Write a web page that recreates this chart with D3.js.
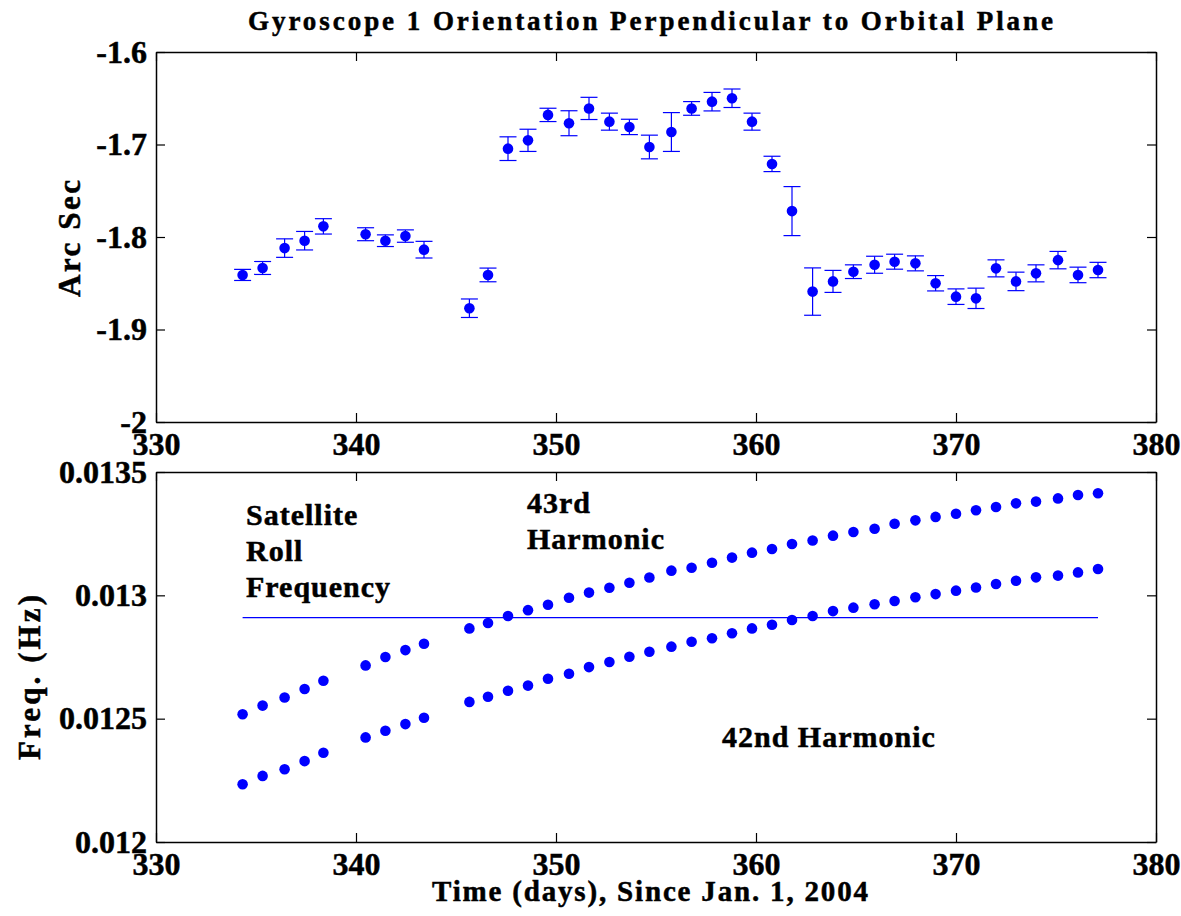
<!DOCTYPE html>
<html>
<head>
<meta charset="utf-8">
<script src="https://cdn.jsdelivr.net/npm/d3@7"></script>
<style>
  html, body { margin: 0; padding: 0; background: #fff; }
  svg { display: block; }
  text { font-family: "Liberation Serif", "Times New Roman", serif; font-weight: bold; fill: #000; stroke: #000; stroke-width: 0.5px; }
</style>
</head>
<body>
<script>
// ---- data ----
const days = [334.33,335.33,336.43,337.43,338.37,340.48,341.47,342.47,343.4,345.67,346.6,
  347.6,348.6,349.6,350.65,351.65,352.67,353.67,354.67,355.77,356.78,357.8,358.8,359.8,360.8,361.8,362.83,
  363.85,364.87,365.93,366.93,367.97,368.98,370.0,371.0,372.0,373.0,374.0,375.1,376.1,377.1];

const orientation = [-1.841,-1.8335,-1.812,-1.804,-1.7885,-1.797,-1.804,-1.799,-1.8137,-1.877,-1.841,
  -1.7045,-1.6955,-1.668,-1.677,-1.661,-1.6753,-1.681,-1.7027,-1.6865,-1.661,-1.6537,-1.650,-1.6753,-1.721,-1.772,-1.859,
  -1.848,-1.8375,-1.830,-1.8267,-1.8285,-1.850,-1.8645,-1.8663,-1.8339,-1.848,-1.8393,-1.825,-1.841,-1.8357];

const orientationErr = [0.006,0.007,0.010,0.010,0.0083,0.007,0.0063,0.0067,0.009,0.010,0.0074,
  0.0128,0.012,0.0072,0.0135,0.012,0.0092,0.0083,0.0128,0.021,0.0074,0.010,0.010,0.0092,0.0083,0.0265,0.0256,
  0.0119,0.0074,0.0092,0.0081,0.0081,0.0083,0.0084,0.011,0.0092,0.010,0.0092,0.0094,0.0084,0.0083];

const harmonic43 = [0.012518,0.012553,0.012586,0.01262,0.012654,0.012716,0.01275,0.012778,0.012804,0.012866,0.012888,
  0.012916,0.01294,0.012962,0.01299,0.013011,0.013031,0.013051,0.013072,0.0131,0.013112,0.013132,0.013153,0.013173,0.013188,0.013208,0.013222,
  0.013242,0.013257,0.01327,0.01329,0.013304,0.013318,0.013331,0.013345,0.013358,0.013373,0.01338,0.013393,0.013407,0.013414];

const harmonic42 = [0.012234,0.012268,0.012295,0.012328,0.012362,0.012424,0.012451,0.012478,0.012504,0.012568,0.012589,
  0.012613,0.012634,0.012662,0.012682,0.012709,0.01273,0.012751,0.012771,0.012792,0.012812,0.012826,0.012846,0.012866,0.012881,0.0129,0.012916,
  0.012936,0.01295,0.012964,0.012977,0.012992,0.013005,0.013019,0.013032,0.013046,0.013059,0.013073,0.01308,0.013093,0.013107];

const rollFrequency = 0.01291;

const xTicks = [330,340,350,360,370,380];
const xTickLabels = ["330","340","350","360","370","380"];
const topYTicks = [-1.6,-1.7,-1.8,-1.9,-2];
const topYTickLabels = ["-1.6","-1.7","-1.8","-1.9","-2"];
const botYTicks = [0.0135,0.013,0.0125,0.012];
const botYTickLabels = ["0.0135","0.013","0.0125","0.012"];

const titleText = "Gyroscope 1 Orientation Perpendicular to Orbital Plane";
const topYLabel = "Arc Sec";
const botYLabel = "Freq. (Hz)";
const xLabel = "Time (days), Since Jan. 1, 2004";
const rollLabel = ["Satellite","Roll","Frequency"];
const label43 = ["43rd","Harmonic"];
const label42 = ["42nd Harmonic"];

// ---- layout ----
const W = 1181, H = 916;
const L = 156, R = 1156;
const top1 = 52, bot1 = 422, top2 = 472, bot2 = 842;
const blue = "#0000ff";

const svg = d3.select("body").append("svg").attr("width", W).attr("height", H);

const x = d3.scaleLinear().domain([330,380]).range([L,R]);
const yTop = d3.scaleLinear().domain([-2,-1.6]).range([bot1,top1]);
const yBot = d3.scaleLinear().domain([0.012,0.0135]).range([bot2,top2]);

function drawFrame(y, yTicks, yLabels, yTopPx, yBotPx) {
  const g = svg.append("g");
  const fmtX = d => xTickLabels[xTicks.indexOf(d)];
  const fmtY = d => yLabels[yTicks.indexOf(d)];
  g.append("g").attr("transform", `translate(0,${yBotPx})`)
    .call(d3.axisBottom(x).tickValues(xTicks).tickFormat(fmtX).tickSize(-9).tickSizeOuter(0).tickPadding(10));
  g.append("g").attr("transform", `translate(0,${yTopPx})`)
    .call(d3.axisTop(x).tickValues(xTicks).tickFormat("").tickSize(-9).tickSizeOuter(0));
  g.append("g").attr("transform", `translate(${L},0)`)
    .call(d3.axisLeft(y).tickValues(yTicks).tickFormat(fmtY).tickSize(-9).tickSizeOuter(0).tickPadding(9));
  g.append("g").attr("transform", `translate(${R},0)`)
    .call(d3.axisRight(y).tickValues(yTicks).tickFormat("").tickSize(-9).tickSizeOuter(0));
  g.selectAll(".domain").attr("stroke", "#000").attr("stroke-width", 1.5);
  g.selectAll(".tick line").attr("stroke", "#000").attr("stroke-width", 1.2);
  g.selectAll(".tick text").attr("font-size", 32);
}

drawFrame(yTop, topYTicks, topYTickLabels, top1, bot1);
drawFrame(yBot, botYTicks, botYTickLabels, top2, bot2);

// ---- top panel: error bars + points ----
const gTop = svg.append("g");
const cap = 8.5;
days.forEach((d,i) => {
  const cx = x(d);
  const y1 = yTop(orientation[i] + orientationErr[i]);
  const y2 = yTop(orientation[i] - orientationErr[i]);
  gTop.append("line").attr("x1",cx).attr("x2",cx).attr("y1",y1).attr("y2",y2)
    .attr("stroke",blue).attr("stroke-width",1.2);
  gTop.append("line").attr("x1",cx-cap).attr("x2",cx+cap).attr("y1",y1).attr("y2",y1)
    .attr("stroke",blue).attr("stroke-width",1.2);
  gTop.append("line").attr("x1",cx-cap).attr("x2",cx+cap).attr("y1",y2).attr("y2",y2)
    .attr("stroke",blue).attr("stroke-width",1.2);
});
gTop.selectAll("circle").data(days).join("circle")
  .attr("cx", d => x(d)).attr("cy", (d,i) => yTop(orientation[i])).attr("r", 5.3).attr("fill", blue);

// ---- bottom panel ----
const gBot = svg.append("g");
gBot.append("line")
  .attr("x1", x(days[0])).attr("x2", x(days[days.length-1]))
  .attr("y1", yBot(rollFrequency)).attr("y2", yBot(rollFrequency))
  .attr("stroke", blue).attr("stroke-width", 1.2);
gBot.selectAll("circle.h43").data(days).join("circle").attr("class","h43")
  .attr("cx", d => x(d)).attr("cy", (d,i) => yBot(harmonic43[i])).attr("r", 5.3).attr("fill", blue);
gBot.selectAll("circle.h42").data(days).join("circle").attr("class","h42")
  .attr("cx", d => x(d)).attr("cy", (d,i) => yBot(harmonic42[i])).attr("r", 5.3).attr("fill", blue);

// annotations
function multiLine(lines, x0, y0, dy) {
  lines.forEach((t,i) => {
    svg.append("text").attr("x", x0).attr("y", y0 + i*dy)
      .attr("font-size", 30).attr("letter-spacing", 1).text(t);
  });
}
multiLine(rollLabel, 246, 525, 36);
multiLine(label43, 527, 513, 36);
multiLine(label42, 722, 747, 36);

// title & axis labels
svg.append("text").attr("x", 248).attr("y", 30).attr("font-size", 27)
  .attr("textLength", 805).attr("lengthAdjust", "spacing").text(titleText);

svg.append("text").attr("x", 432).attr("y", 901).attr("font-size", 29)
  .attr("textLength", 436).attr("lengthAdjust", "spacing").text(xLabel);

svg.append("text").attr("transform", "translate(80,297) rotate(-90)")
  .attr("font-size", 31).attr("textLength", 117).attr("lengthAdjust", "spacing").text(topYLabel);

svg.append("text").attr("transform", "translate(40,760) rotate(-90)")
  .attr("font-size", 31).attr("textLength", 165).attr("lengthAdjust", "spacing").text(botYLabel);
</script>
</body>
</html>
